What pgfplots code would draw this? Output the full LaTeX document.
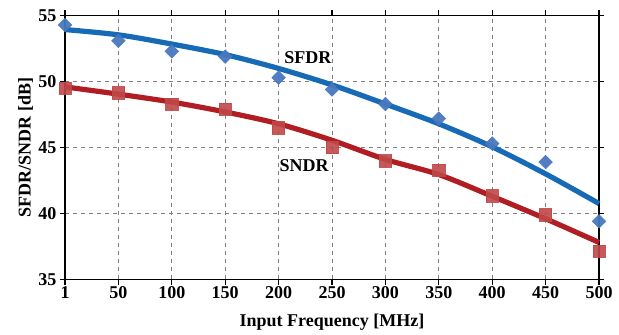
\documentclass[border=0pt]{standalone}
\usepackage{pgfplots}
\pgfplotsset{compat=1.18}
\usepackage{fontspec}
\setmainfont{Liberation Serif}
\definecolor{sfdrline}{RGB}{22,106,182}
\definecolor{sfdrmark}{RGB}{72,120,190}
\definecolor{sndrline}{RGB}{176,30,36}
\definecolor{sndrmark}{RGB}{192,72,72}
\begin{document}
\begin{tikzpicture}
\begin{axis}[
  name=ax,
  scale only axis,
  width=400.5pt, height=197.7pt,
  xmin=0, xmax=10, ymin=35, ymax=55,
  xtick={0,...,10},
  xticklabels={1,50,100,150,200,250,300,350,400,450,500},
  ytick={35,40,45,50,55},
  tick style={black, line width=0.8pt},
  tick align=outside,
  major tick length=4pt,
  axis line style={line width=1pt},
  grid=major,
  major grid style={dashed, gray, line width=0.6pt},
  font=\fontsize{13.5}{15}\selectfont\bfseries,
  ticklabel style={font=\fontsize{13.5}{15}\selectfont\bfseries},
  xticklabel style={yshift=2pt},
  yticklabel style={xshift=1pt},
  /pgf/number format/assume math mode=true,
  xlabel={Input Frequency [MHz]},
  ylabel={SFDR/SNDR [dB]},
  xlabel style={font=\fontsize{13.5}{15}\selectfont\bfseries, yshift=-4.5pt},
  ylabel style={font=\fontsize{13.5}{15}\selectfont\bfseries, yshift=-3pt},
  clip=false,
]
% measured markers
\addplot[only marks, mark=square*, mark size=3.6pt, mark options={rotate=45}, color=sfdrmark, opacity=0.95] coordinates {
 (0,54.3) (1,53.1) (2,52.3) (3,51.9) (4,50.3) (5,49.4) (6,48.3) (7,47.2) (8,45.3) (9,43.9) (10,39.4)};
\addplot[only marks, mark=square*, mark size=4.6pt, color=sndrmark, opacity=0.9] coordinates {
 (0,49.5) (1,49.15) (2,48.3) (3,47.9) (4,46.5) (5,45.0) (6,44.0) (7,43.3) (8,41.35) (9,39.9) (10,37.15)};
% fitted curves
\addplot[smooth, color=sfdrline, line width=3.9pt] coordinates {
 (0,53.95) (1,53.55) (2,52.85) (3,52.05) (4,51.0) (5,49.75) (6,48.3) (7,46.8) (8,45.05) (9,43.0) (10,40.75)};
\addplot[smooth, color=sndrline, line width=3.9pt] coordinates {
 (0,49.6) (1,49.05) (2,48.45) (3,47.7) (4,46.8) (5,45.55) (6,44.1) (7,42.95) (8,41.3) (9,39.6) (10,37.8)};
\node[font=\fontsize{13.5}{15}\selectfont\bfseries] at (axis cs:4.55,51.85) {SFDR};
\node[font=\fontsize{13.5}{15}\selectfont\bfseries] at (axis cs:4.48,43.6) {SNDR};
\end{axis}
\path[use as bounding box] ([xshift=-48.75pt,yshift=-38.8pt]ax.south west) rectangle ([xshift=15pt,yshift=11.8pt]ax.north east);
\end{tikzpicture}
\end{document}
